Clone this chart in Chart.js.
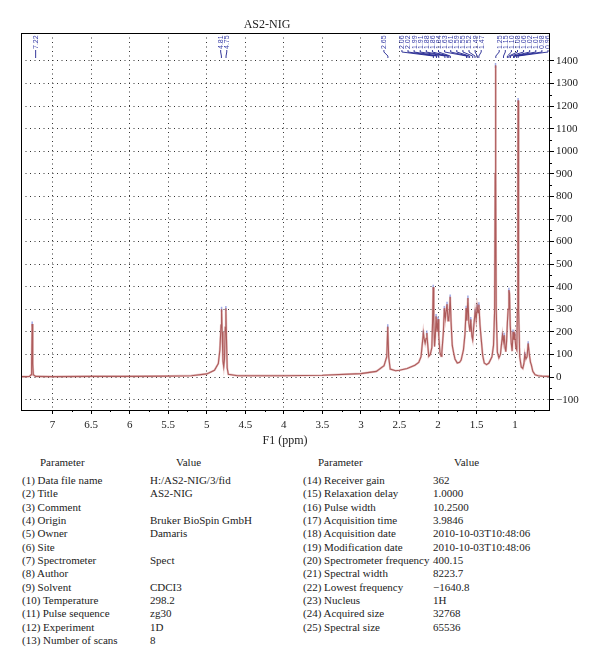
<!DOCTYPE html>
<html lang="en">
<head>
<meta charset="UTF-8">
<title>AS2-NIG</title>
<script src="https://cdn.jsdelivr.net/npm/chart.js"></script>
<style>
    body {
        margin: 0;
        padding: 0;
        background: #fff;
        font-family: "Liberation Serif", "DejaVu Serif", serif;
        color: #222;
    }
    .wrap {
        position: relative;
        width: 600px;
        height: 667px;
    }
    #spectrum {
        position: absolute;
        left: 0;
        top: 0;
    }
    .col {
        position: absolute;
        font-size: 11px;
        line-height: 13.33px;
        white-space: nowrap;
    }
    .col div {
        height: 13.33px;
    }
</style>
</head>
<body>
<div class="wrap">
    <canvas id="spectrum" width="600" height="450"></canvas>
    <div class="col" style="left:40px; top:456px;">Parameter</div>
    <div class="col" style="left:176px; top:456px;">Value</div>
    <div class="col" style="left:318px; top:456px;">Parameter</div>
    <div class="col" style="left:454px; top:456px;">Value</div>
    <div class="col" id="names1" style="left:22px; top:474px;"></div>
    <div class="col" id="values1" style="left:150px; top:474px;"></div>
    <div class="col" id="names2" style="left:303px; top:474px;"></div>
    <div class="col" id="values2" style="left:433px; top:474px;"></div>
</div>

<script>
    // spectrum: chemical shift (ppm) and intensity
    const ppm = [
        7.41, 7.35, 7.30, 7.28, 7.272, 7.265, 7.258, 7.25, 7.22, 7.0, 6.5, 6.0, 5.5, 5.2, 5.0,
        4.9, 4.85, 4.83, 4.815, 4.808, 4.80, 4.79, 4.78, 4.77, 4.76, 4.752, 4.745, 4.735, 4.72, 4.6,
        4.0, 3.5, 3.0, 2.8, 2.7, 2.665, 2.652, 2.64, 2.62, 2.55, 2.5, 2.4, 2.3, 2.25, 2.22,
        2.20, 2.19, 2.18, 2.167, 2.155, 2.145, 2.135, 2.12, 2.10, 2.08, 2.07, 2.062, 2.055, 2.045, 2.035,
        2.025, 2.012, 2.0, 1.99, 1.975, 1.96, 1.95, 1.93, 1.918, 1.905, 1.895, 1.883, 1.87, 1.86, 1.85,
        1.842, 1.83, 1.815, 1.80, 1.78, 1.75, 1.72, 1.70, 1.67, 1.65, 1.635, 1.625, 1.612, 1.60, 1.585,
        1.575, 1.56, 1.55, 1.535, 1.518, 1.505, 1.492, 1.48, 1.47, 1.455, 1.44, 1.42, 1.40, 1.37, 1.34,
        1.30, 1.28, 1.265, 1.258, 1.254, 1.250, 1.245, 1.23, 1.21, 1.19, 1.175, 1.163, 1.152, 1.142, 1.13,
        1.12, 1.11, 1.10, 1.09, 1.08, 1.072, 1.063, 1.05, 1.038, 1.026, 1.015, 1.004, 0.99, 0.978, 0.97,
        0.964, 0.961, 0.957, 0.952, 0.94, 0.92, 0.90, 0.885, 0.874, 0.86, 0.845, 0.83, 0.815, 0.80, 0.79,
        0.77, 0.74, 0.70, 0.65, 0.56
    ];
    const intensity = [
        2, 2, 3, 10, 60, 235, 60, 10, 3, 2, 3, 3, 4, 6, 14,
        30, 60, 120, 230, 300, 200, 70, 45, 80, 220, 304, 180, 40, 12, 6,
        6, 8, 15, 25, 50, 90, 223, 90, 35, 28, 30, 38, 52, 65, 90,
        160, 196, 170, 150, 170, 195, 150, 92, 100, 130, 250, 398, 250, 135, 180,
        268, 200, 256, 180, 110, 92, 110, 200, 304, 260, 290, 322, 250, 255, 300,
        355, 240, 140, 112, 80, 62, 65, 75, 120, 190, 305, 250, 350, 240, 200,
        255, 180, 165, 230, 290, 255, 312, 285, 320, 230, 170, 95, 62, 55, 62,
        90, 140, 300, 900, 1380, 900, 300, 110, 85, 100, 150, 186, 158, 185, 130,
        112, 160, 240, 300, 385, 370, 230, 150, 115, 200, 165, 186, 130, 120, 300,
        900, 1225, 900, 300, 90, 45, 38, 60, 100, 80, 90, 148, 100, 65, 55,
        25, 10, 6, 4, 3
    ];

    // picked peak labels, in the groups the labels are stacked in
    const peakGroups = [
        ['7.22'],
        ['4.81', '4.75'],
        ['2.65'],
        ['2.06', '2.02', '1.99', '1.91', '1.88', '1.86', '1.84', '1.63', '1.61', '1.59', '1.55', '1.52', '1.49', '1.47'],
        ['1.25', '1.15', '1.10', '1.08', '1.06', '1.02', '1.01', '0.98', '0.96']
    ];

    const xRange = [0.56, 7.41];
    const yRange = [-146, 1524];
    const xStep = 0.5;
    const yStep = 100;
    const yTickMax = 1400;

    // acquisition parameters
    const paramNames1 = ['(1) Data file name', '(2) Title', '(3) Comment', '(4) Origin', '(5) Owner', '(6) Site',
        '(7) Spectrometer', '(8) Author', '(9) Solvent', '(10) Temperature', '(11) Pulse sequence', '(12) Experiment',
        '(13) Number of scans'];
    const paramValues1 = ['H:/AS2-NIG/3/fid', 'AS2-NIG', '', 'Bruker BioSpin GmbH', 'Damaris', '', 'Spect', '',
        'CDCI3', '298.2', 'zg30', '1D', '8'];
    const paramNames2 = ['(14) Receiver gain', '(15) Relaxation delay', '(16) Pulse width', '(17) Acquisition time',
        '(18) Acquisition date', '(19) Modification date', '(20) Spectrometer frequency', '(21) Spectral width',
        '(22) Lowest frequency', '(23) Nucleus', '(24) Acquired size', '(25) Spectral size'];
    const paramValues2 = ['362', '1.0000', '10.2500', '3.9846', '2010-10-03T10:48:06', '2010-10-03T10:48:06',
        '400.15', '8223.7', '\u22121640.8', '1H', '32768', '65536'];

    function fillColumn(id, items) {
        const el = document.getElementById(id);
        items.forEach(t => {
            const d = document.createElement('div');
            d.textContent = t;
            el.appendChild(d);
        });
    }
    fillColumn('names1', paramNames1);
    fillColumn('values1', paramValues1);
    fillColumn('names2', paramNames2);
    fillColumn('values2', paramValues2);

    const points = ppm.map((p, i) => ({ x: p, y: intensity[i] }));
    // little markers on the picked maxima
    const tops = points.filter((pt, i) => i > 0 && i < points.length - 1 &&
        pt.y > points[i - 1].y && pt.y > points[i + 1].y && pt.y > 80);

    // frame, minor ticks and plot title
    const framePlugin = {
        id: 'framePlugin',
        afterDraw(chart) {
            const { ctx, chartArea: a, scales: { x, y } } = chart;
            ctx.save();
            ctx.strokeStyle = '#000';
            ctx.lineWidth = 1;
            ctx.beginPath();
            for (let k = 1; k < 14; k++) {
                const v = 0.75 + (k - 1) * 0.5;
                if (v > xRange[1]) break;
                const px = Math.round(x.getPixelForValue(v)) + 0.5;
                ctx.moveTo(px, a.bottom);
                ctx.lineTo(px, a.bottom + 2);
            }
            for (let v = -50; v < yTickMax; v += 100) {
                const py = Math.round(y.getPixelForValue(v)) + 0.5;
                ctx.moveTo(a.right, py);
                ctx.lineTo(a.right + 3, py);
            }
            ctx.stroke();
            ctx.strokeRect(Math.round(a.left) + 0.5, Math.round(a.top) + 0.5,
                Math.round(a.right - a.left), Math.round(a.bottom - a.top));

            ctx.fillStyle = '#222';
            ctx.font = '12px "Liberation Serif", serif';
            ctx.textAlign = 'center';
            ctx.textBaseline = 'middle';
            ctx.fillText('AS2-NIG', 267, 25);
            ctx.restore();
        }
    };

    // vertical peak labels with their leader lines
    const peakLabelPlugin = {
        id: 'peakLabelPlugin',
        afterDatasetsDraw(chart) {
            const { ctx, chartArea: a, scales: { x } } = chart;
            const step = 6.1;
            const groupGap = 18;
            const groups = peakGroups.map(g => {
                const px = g.map(s => x.getPixelForValue(parseFloat(s)));
                const c = px.reduce((s, v) => s + v, 0) / px.length;
                return { labels: g, px, c, half: (g.length - 1) * step / 2 };
            });
            for (let it = 0; it < 60; it++) {
                let moved = false;
                for (let g = 0; g < groups.length - 1; g++) {
                    const A = groups[g], B = groups[g + 1];
                    const need = (A.c + A.half + groupGap) - (B.c - B.half);
                    if (need > 0.01) {
                        A.c -= need / 2;
                        B.c += need / 2;
                        moved = true;
                    }
                }
                const last = groups[groups.length - 1];
                const over = last.c + last.half - (a.right - 1);
                if (over > 0) { last.c -= over; moved = true; }
                if (!moved) break;
            }

            ctx.save();
            ctx.font = '7px "Liberation Sans", sans-serif';
            ctx.textBaseline = 'middle';
            ctx.textAlign = 'left';
            groups.forEach(g => {
                g.labels.forEach((lab, k) => {
                    const lx = g.c - g.half + k * step;
                    const px = g.px[k];
                    ctx.strokeStyle = '#1f238f';
                    ctx.lineWidth = 0.9;
                    ctx.beginPath();
                    ctx.moveTo(lx, 50);
                    ctx.lineTo(lx, 52);
                    ctx.lineTo(px, 56);
                    ctx.lineTo(px, 58);
                    ctx.stroke();
                    ctx.save();
                    ctx.translate(lx, 49);
                    ctx.rotate(-Math.PI / 2);
                    ctx.fillStyle = '#3b40a8';
                    ctx.fillText(lab, 0, 0.5);
                    ctx.restore();
                });
            });
            ctx.restore();
        }
    };

    const ctx = document.getElementById('spectrum').getContext('2d');
    new Chart(ctx, {
        type: 'scatter',
        data: {
            datasets: [
                {
                    data: points,
                    showLine: true,
                    borderColor: 'rgba(215,150,150,0.55)',
                    borderWidth: 2.2,
                    pointRadius: 0,
                    tension: 0
                },
                {
                    data: points,
                    showLine: true,
                    borderColor: '#7a1414',
                    borderWidth: 1.1,
                    pointRadius: 0,
                    tension: 0
                },
                {
                    data: tops,
                    showLine: false,
                    pointStyle: 'line',
                    rotation: 90,
                    pointRadius: 2.5,
                    borderWidth: 1.5,
                    borderColor: 'rgba(150,160,225,0.9)'
                }
            ]
        },
        options: {
            responsive: false,
            animation: false,
            devicePixelRatio: 1,
            layout: { padding: { left: 21, top: 33, right: 0, bottom: 0 } },
            plugins: {
                legend: { display: false },
                tooltip: { enabled: false }
            },
            scales: {
                x: {
                    type: 'linear',
                    reverse: true,
                    min: xRange[0],
                    max: xRange[1],
                    afterFit(scale) { scale.height = 40; },
                    ticks: {
                        stepSize: xStep,
                        includeBounds: false,
                        autoSkip: false,
                        maxRotation: 0,
                        padding: 5,
                        color: '#222',
                        font: { family: '"Liberation Serif", serif', size: 11 },
                        callback: v => String(v)
                    },
                    grid: {
                        color: '#333',
                        tickColor: '#000',
                        tickLength: 4
                    },
                    border: { color: '#000', width: 1, dash: [1, 3.5] },
                    title: {
                        display: true,
                        text: 'F1 (ppm)',
                        color: '#222',
                        font: { family: '"Liberation Serif", serif', size: 12 },
                        padding: { top: 0, bottom: 2 }
                    }
                },
                y: {
                    type: 'linear',
                    position: 'right',
                    min: yRange[0],
                    max: yRange[1],
                    afterFit(scale) { scale.width = 51; },
                    afterBuildTicks(scale) {
                        scale.ticks = scale.ticks.filter(t => t.value <= yTickMax && t.value >= -100);
                    },
                    ticks: {
                        stepSize: yStep,
                        includeBounds: false,
                        padding: 2,
                        color: '#222',
                        font: { family: '"Liberation Serif", serif', size: 11 },
                        callback: v => v < 0 ? '\u2212' + Math.abs(v) : String(v)
                    },
                    grid: {
                        color: '#333',
                        tickColor: '#000',
                        tickLength: 5
                    },
                    border: { color: '#000', width: 1, dash: [1, 3.5] }
                }
            }
        },
        plugins: [framePlugin, peakLabelPlugin]
    });
</script>
</body>
</html>
